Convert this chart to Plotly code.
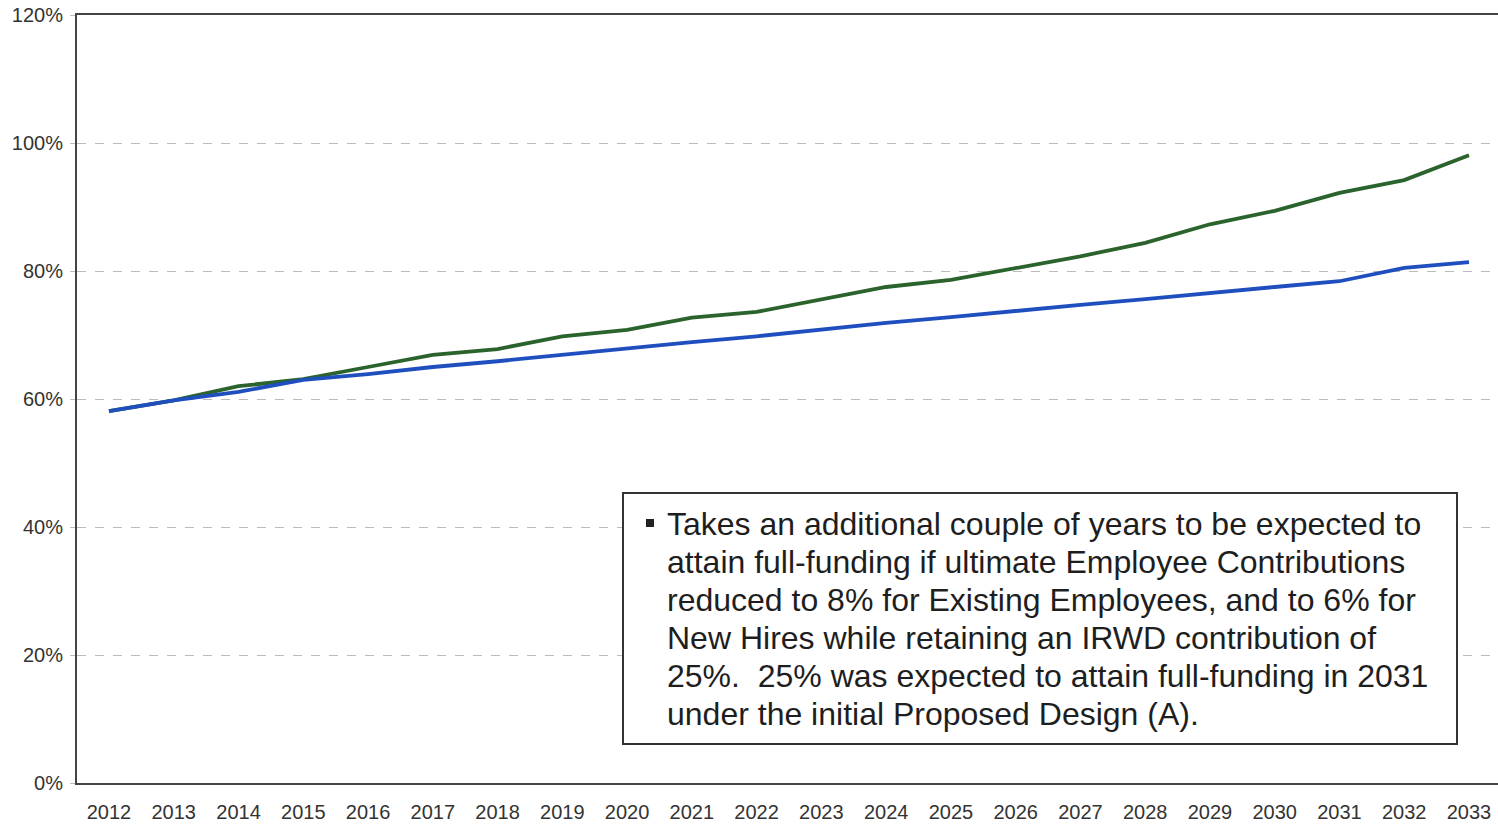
import plotly.graph_objects as go

years = list(range(2012, 2034))
green_vals = [58.1, 59.8, 62.0, 63.1, 65.0, 66.9, 67.8, 69.8, 70.8, 72.7, 73.6, 75.6,
              77.5, 78.6, 80.5, 82.3, 84.4, 87.3, 89.4, 92.2, 94.2, 98.1]
blue_vals = [58.1, 59.8, 61.1, 63.0, 63.9, 65.0, 65.9, 66.9, 68.0, 68.9, 69.8, 70.9,
             71.9, 72.8, 73.8, 74.7, 75.6, 76.6, 77.5, 78.4, 80.5, 81.4]
y_ticks = [0, 20, 40, 60, 80, 100, 120]
y_tick_text = [f"{v}%" for v in y_ticks]
note_lines = [
    "Takes an additional couple of years to be expected to",
    "attain full-funding if ultimate Employee Contributions",
    "reduced to 8% for Existing Employees, and to 6% for",
    "New Hires while retaining an IRWD contribution of",
    "25%.  25% was expected to attain full-funding in 2031",
    "under the initial Proposed Design (A).",
]

FONT = "Liberation Sans, Arial, sans-serif"
W, H = 1498, 824
L, R, T, B = 77, 0, 15, 41
PW, PH = W - L - R, H - T - B


def px_x(px):
    return (px - L) / PW


def px_y(py):
    return (H - B - py) / PH


fig = go.Figure()
fig.add_trace(go.Scatter(x=years, y=green_vals, mode="lines",
                         line=dict(color="#2a632c", width=3.8), showlegend=False))
fig.add_trace(go.Scatter(x=years, y=blue_vals, mode="lines",
                         line=dict(color="#1f4fbf", width=3.8), showlegend=False))

fig.update_layout(
    width=W, height=H,
    margin=dict(l=L, r=R, t=T, b=B, autoexpand=False),
    paper_bgcolor="white", plot_bgcolor="white",
    font=dict(family=FONT, size=20, color="#333333"),
    xaxis=dict(range=[2011.506, 2033.448], tickmode="array", tickvals=years,
               ticktext=[str(y) for y in years], showgrid=False, zeroline=False,
               showline=True, linecolor="#444444", linewidth=2, mirror=True,
               ticks="", ticklabelstandoff=10, automargin=False),
    yaxis=dict(range=[0, 120], tickmode="array", tickvals=y_ticks, ticktext=y_tick_text,
               showgrid=True, gridcolor="#bbbbbb", griddash="dash", gridwidth=1,
               zeroline=False, showline=True, linecolor="#444444", linewidth=2,
               ticks="outside", ticklen=5, tickcolor="#bbbbbb", ticklabelstandoff=3,
               automargin=False),
)

# note box
fig.add_shape(type="rect", xref="paper", yref="paper",
              x0=px_x(623), x1=px_x(1457), y0=px_y(744), y1=px_y(493),
              line=dict(color="#333333", width=2), fillcolor="white", layer="above")
for i, line in enumerate(note_lines):
    fig.add_annotation(xref="paper", yref="paper", x=px_x(665), y=px_y(524 + 38 * i),
                       xanchor="left", yanchor="middle", align="left", showarrow=False,
                       text=line, font=dict(family=FONT, size=32, color="#1e1e1e"))
fig.add_shape(type="rect", xref="paper", yref="paper",
              x0=px_x(646), x1=px_x(654), y0=px_y(527), y1=px_y(519),
              line=dict(width=0), fillcolor="#222222", layer="above")

fig.write_html("out.html", config={"displayModeBar": False},
               post_script="document.body.style.margin='0';document.body.style.overflow='hidden';")
